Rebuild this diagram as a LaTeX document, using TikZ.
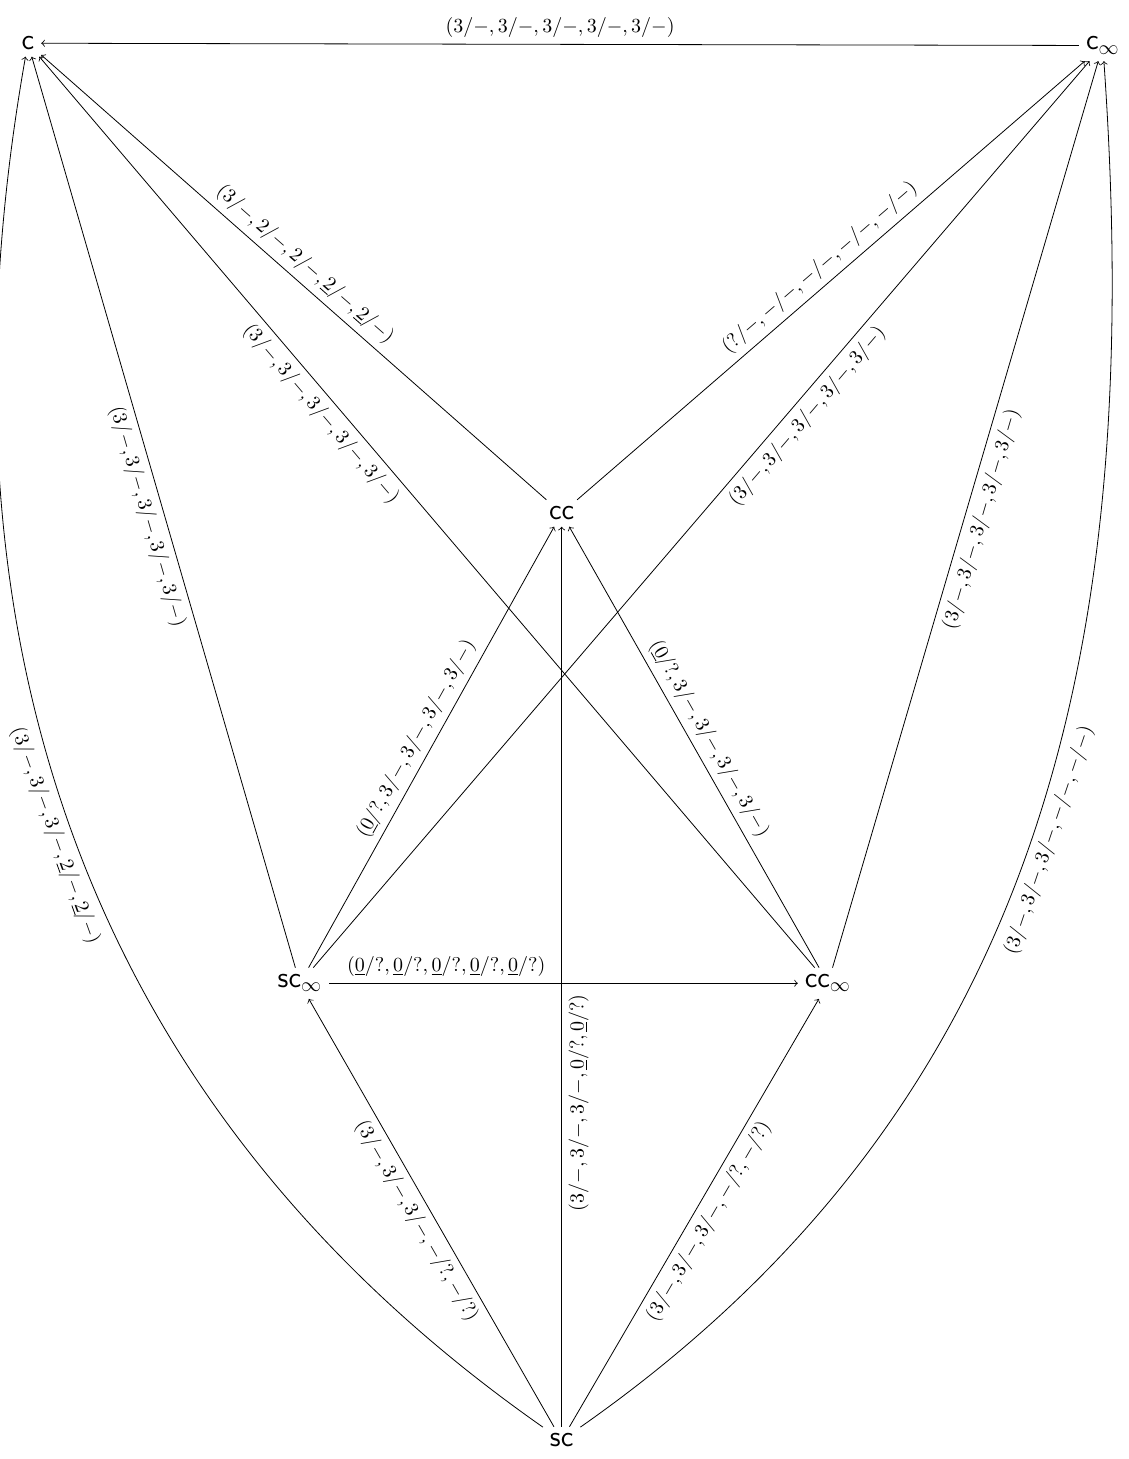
\documentclass[tikz,border=0pt]{standalone}
\usepackage{amsmath, amssymb, amsfonts}
\usepackage{xcolor}

\begin{document}
\begin{tikzpicture}[>=to, auto, state/.style={font=\Large}]
    \useasboundingbox (0,0) rectangle (19.84,25.64);
    % Nodes
    \node[state] (c) at (0.49, 24.88) {$\mathsf{c}$};
    \node[state] (cinf) at (19.38, 24.84) {$\mathsf{c}_\infty$};
    \node[state] (cc) at (9.87, 16.62) {$\mathsf{cc}$};
    \node[state] (scinf) at (5.27, 8.36) {$\mathsf{sc}_\infty$};
    \node[state] (ccinf) at (14.55, 8.36) {$\mathsf{cc}_\infty$};
    \node[state] (sc) at (9.87, 0.33) {$\mathsf{sc}$};

    % Top
    \draw[->] (cinf) -- (c) node[midway, above] {$(3/{-}, 3/{-}, 3/{-}, 3/{-}, 3/{-})$};

    % Into c
    \draw[->] (cc) -- (c) node[midway, above, sloped] {$(3/{-}, 2/{-}, 2/{-}, \underline{2}/{-}, \underline{2}/{-})$};
    \draw[->] (ccinf) -- (c) node[pos=0.62, below, sloped] {$(3/{-}, 3/{-}, 3/{-}, 3/{-}, 3/{-})$};
    \draw[->] (scinf) -- (c) node[midway, below, sloped] {$(3/{-}, 3/{-}, 3/{-}, 3/{-}, 3/{-})$};
    \draw[->] (sc) to[out=145, in=-100] node[midway, below, sloped] {$(3/{-}, 3/{-}, 3/{-}, \underline{2}/{-}, \underline{2}/{-})$} (c);

    % Into c_infty
    \draw[->] (cc) -- (cinf) node[midway, above, sloped] {$(?/{-}, {-}/{-}, {-}/{-}, {-}/{-}, {-}/{-})$};
    \draw[->] (scinf) -- (cinf) node[pos=0.62, below, sloped] {$(3/{-}, 3/{-}, 3/{-}, 3/{-}, 3/{-})$};
    \draw[->] (ccinf) -- (cinf) node[midway, below, sloped] {$(3/{-}, 3/{-}, 3/{-}, 3/{-}, 3/{-})$};
    \draw[->] (sc) to[out=35, in=-86] node[midway, below, sloped] {$(3/{-}, 3/{-}, 3/{-}, {-}/{-}, {-}/{-})$} (cinf);

    % Into cc
    \draw[->] (scinf) -- (cc) node[midway, above, sloped] {$(\underline{0}/?, 3/{-}, 3/{-}, 3/{-}, 3/{-})$};
    \draw[->] (ccinf) -- (cc) node[midway, above, sloped] {$(\underline{0}/?, 3/{-}, 3/{-}, 3/{-}, 3/{-})$};
    \draw[->] (sc) -- (cc) node[pos=0.36, below, sloped] {$(3/{-}, 3/{-}, 3/{-}, \underline{0}/?, \underline{0}/?)$};

    % Bottom row
    \draw[->] (scinf) -- (ccinf) node[near start, above] {$(\underline{0}/?, \underline{0}/?, \underline{0}/?, \underline{0}/?, \underline{0}/?)$};
    \draw[->] (sc) -- (scinf) node[midway, below, sloped] {$(3/{-}, 3/{-}, 3/{-}, {-}/?, {-}/?)$};
    \draw[->] (sc) -- (ccinf) node[midway, below, sloped] {$(3/{-}, 3/{-}, 3/{-}, {-}/?, {-}/?)$};
\end{tikzpicture}
\end{document}
